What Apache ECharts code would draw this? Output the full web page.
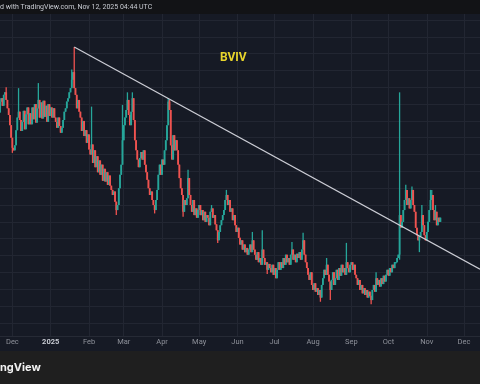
<!DOCTYPE html>
<html><head><meta charset="utf-8">
<script src="https://cdn.jsdelivr.net/npm/echarts@6/dist/echarts.min.js"></script>
<style>html,body{margin:0;padding:0;background:#161a25;overflow:hidden}#c{width:480px;height:384px}</style>
</head><body><div id="c"></div>
<script>
// ---- data ----
const startDate = [2024, 10, 21];   // first daily category (UTC, month 0-based)
const dayCount = 389;               // categories through 2025-12-14
const firstOpen = 61.0;
const closes = [
62.3,62.7,61.8,63.1,63.4,62.5,61.5,60.7,59.5,58.0,
56.8,56.5,57.1,58.9,60.4,61.1,60.1,58.8,59.9,61.2,
59.0,60.8,61.6,59.6,60.9,59.6,61.6,60.2,62.0,59.8,
61.5,62.5,60.4,62.2,60.3,62.4,60.5,61.8,59.9,62.0,
60.6,61.6,60.4,61.5,60.4,59.9,59.2,60.4,59.4,58.6,
59.2,60.1,61.1,61.5,62.3,62.7,63.4,63.9,64.9,65.8,
63.9,63.1,61.5,62.5,61.1,60.4,58.8,60.0,58.2,58.9,
57.4,58.4,56.6,56.0,57.2,55.0,56.5,54.5,55.8,53.9,
55.3,53.6,54.8,52.9,54.3,52.8,53.9,52.4,53.5,52.3,
51.8,51.2,51.6,50.4,49.4,50.0,52.0,53.6,54.8,57.7,
59.5,60.4,61.3,62.5,60.7,59.5,61.1,62.7,60.1,57.7,
56.5,55.4,54.5,55.6,56.3,55.4,56.5,54.8,53.9,53.0,
52.0,51.2,51.6,50.6,50.0,49.4,50.6,51.8,53.6,54.8,
53.6,55.4,54.8,56.5,57.7,59.5,62.3,61.3,57.1,55.4,
58.3,56.5,57.7,56.5,54.8,53.2,52.0,51.2,49.2,50.6,
50.0,50.8,53.2,51.2,50.0,49.2,50.6,48.8,49.6,48.5,
49.4,50.0,48.8,49.4,48.2,49.2,48.0,48.8,48.5,47.6,
49.2,49.6,48.5,48.8,47.7,47.0,45.8,46.8,47.6,48.2,
48.8,49.4,50.6,51.2,50.0,50.6,49.2,49.6,48.2,48.8,
47.6,46.8,47.3,46.1,45.3,45.8,44.7,45.3,44.4,44.9,
44.1,44.7,45.3,44.4,45.8,44.7,44.1,43.5,44.4,43.2,
43.7,42.9,44.7,43.7,42.9,43.2,42.3,43.0,42.5,42.0,
42.9,41.7,42.5,41.3,42.3,43.2,42.3,43.2,42.5,43.7,
42.9,44.1,43.2,43.7,42.9,44.1,44.7,43.5,44.1,43.2,
44.2,43.7,44.4,43.5,44.7,45.8,44.1,43.2,42.5,41.7,
41.1,42.0,40.5,39.9,40.7,39.7,40.1,39.3,39.9,39.0,
40.5,41.3,42.3,41.7,42.9,41.7,40.9,39.9,41.1,42.0,
40.5,41.3,42.3,41.1,42.5,41.6,42.9,42.0,42.5,41.7,
43.2,42.5,42.0,42.9,43.2,42.3,42.9,41.7,41.3,40.5,
41.1,39.9,40.5,39.5,40.1,39.3,39.9,39.0,39.7,39.2,
38.7,39.9,40.5,39.7,41.3,40.5,41.1,40.3,41.3,40.6,
41.6,40.9,41.7,42.3,41.6,42.5,42.0,42.9,42.5,43.2,
43.2,43.7,44.1,48.8,47.3,48.0,49.4,50.6,51.8,50.0,
50.8,49.6,50.6,51.8,50.0,49.2,47.3,46.4,45.8,46.3,
46.8,48.8,47.6,46.4,45.8,46.8,48.0,49.4,50.6,51.2,
49.4,48.2,49.2,47.6,48.5,48.0,48.5
];
// notable wick highs / lows by day index
const wickHighs = {5:64.0,15:63.9,31:64.5,36:62.3,58:66.1,60:68.8,74:61.7,99:61.9,103:63.4,107:63.4,
  136:62.7,137:62.5,152:54.2,171:50.0,183:51.8,204:46.8,212:47.0,236:45.6,245:46.7,264:43.7,
  280:45.5,304:42.0,323:63.4,328:52.4,333:52.2,341:50.0,348:51.8,349:51.8,352:50.0};
const wickLows = {10:56.2,94:48.8,125:49.0,148:48.6,176:45.5,216:41.8,259:38.5,267:38.7,300:38.2,323:43.5,339:44.4};
const trendStart = ['2025-01-20', 68.8];
const trendEnd = ['2025-12-14', 42.36];
const monthNames = ['Jan','Feb','Mar','Apr','May','Jun','Jul','Aug','Sep','Oct','Nov','Dec'];
const titleText = 'BVIV';
const headerText = 'd with TradingView.com, Nov 12, 2025 04:44 UTC';
const brandText = 'ngView';

// ---- build ----
const dates = [];
{ const d = new Date(Date.UTC(startDate[0], startDate[1], startDate[2]));
  for (let i = 0; i < dayCount; i++) { dates.push(d.toISOString().slice(0,10)); d.setUTCDate(d.getUTCDate()+1); } }
const candles = closes.map((c, i) => {
  const o = i === 0 ? firstOpen : closes[i-1];
  let lo = Math.min(o, c), hi = Math.max(o, c);
  if (wickLows[i] !== undefined) lo = Math.min(lo, wickLows[i]);
  if (wickHighs[i] !== undefined) hi = Math.max(hi, wickHighs[i]);
  return [i, o, c, lo, hi];
});
const isMonthStart = (idx, v) => v.slice(8) === '01';
const UP = '#26a69a', DOWN = '#ef5350';
const BODY_W = 1.8, WICK_W = 1.3;

function renderCandle(params, api) {
  const i = api.value(0), o = api.value(1), c = api.value(2), l = api.value(3), h = api.value(4);
  const pO = api.coord([i, o]), pC = api.coord([i, c]), pL = api.coord([i, l]), pH = api.coord([i, h]);
  const xc = pO[0];
  const col = c >= o ? UP : DOWN;
  const bTop = Math.min(pO[1], pC[1]);
  const bH = Math.max(1, Math.abs(pO[1] - pC[1]));
  return {type: 'group', children: [
    {type: 'rect', shape: {x: xc - WICK_W / 2, y: pH[1], width: WICK_W, height: Math.max(1, pL[1] - pH[1])}, style: {fill: col}},
    {type: 'rect', shape: {x: xc - BODY_W / 2, y: bTop, width: BODY_W, height: bH}, style: {fill: col}}
  ]};
}

const chart = echarts.init(document.getElementById('c'), null, {renderer:'canvas'});
chart.setOption({
  animation: false,
  backgroundColor: '#161a25',
  grid: {left: 0, right: 0, top: 3.18, bottom: 44.4},
  xAxis: [{
    type: 'category', data: dates, boundaryGap: false,
    axisLine: {show: false}, axisTick: {show: false}, axisLabel: {show: false},
    splitLine: {show: true, interval: isMonthStart, lineStyle: {color: '#222632', width: 1}}
  }, {
    type: 'category', data: dates, boundaryGap: false, position: 'bottom', z: 20,
    axisLine: {show: false}, axisTick: {show: false}, splitLine: {show: false},
    axisLabel: {
      interval: isMonthStart, margin: -1, color: '#8e919a', fontSize: 7.5, fontFamily: 'Roboto',
      formatter: v => { const m = +v.slice(5,7); return m === 1 ? '{y|' + v.slice(0,4) + '}' : monthNames[m-1]; },
      rich: {y: {fontWeight: 'bold', color: '#c9ccd4', fontSize: 7.5, fontFamily: 'Roboto'}}
    }
  }],
  yAxis: {
    type: 'value', min: 34, max: 74, interval: 2,
    axisLine: {show: false}, axisTick: {show: false}, axisLabel: {show: false},
    splitLine: {show: true, showMinLine: false, showMaxLine: false, lineStyle: {color: '#222632', width: 1}}
  },
  series: [{
    type: 'custom', data: candles, renderItem: renderCandle, z: 3,
    encode: {x: 0, y: [1, 2, 3, 4]}
  }, {
    type: 'line', data: [trendStart, trendEnd], symbol: 'none', silent: true, z: 5,
    lineStyle: {color: '#cdced6', width: 1.2}
  }],
  graphic: [
    {type: 'rect', z: 10, shape: {x: 0, y: 0, width: 480, height: 14}, style: {fill: '#121316'}},
    {type: 'text', z: 11, x: 0, y: 7.5, style: {text: headerText, fill: '#c9ccd3', font: '7px Roboto', verticalAlign: 'middle'}},
    {type: 'rect', z: 10, shape: {x: 0, y: 336, width: 480, height: 15}, style: {fill: '#161a25'}},
    {type: 'rect', z: 10, shape: {x: 0, y: 336, width: 480, height: 1}, style: {fill: '#262a35'}},
    {type: 'rect', z: 10, shape: {x: 0, y: 351, width: 480, height: 33}, style: {fill: '#1f1f1f'}},
    {type: 'text', z: 11, x: 0, y: 368, style: {text: brandText, fill: '#f2f2f2', font: 'bold 11px Inter', verticalAlign: 'middle'}},
    {type: 'text', z: 11, x: 220, y: 57.5, style: {text: titleText, fill: '#e8d52c', font: 'bold 12px Roboto', verticalAlign: 'middle'}}
  ]
});
</script>
</body></html>
